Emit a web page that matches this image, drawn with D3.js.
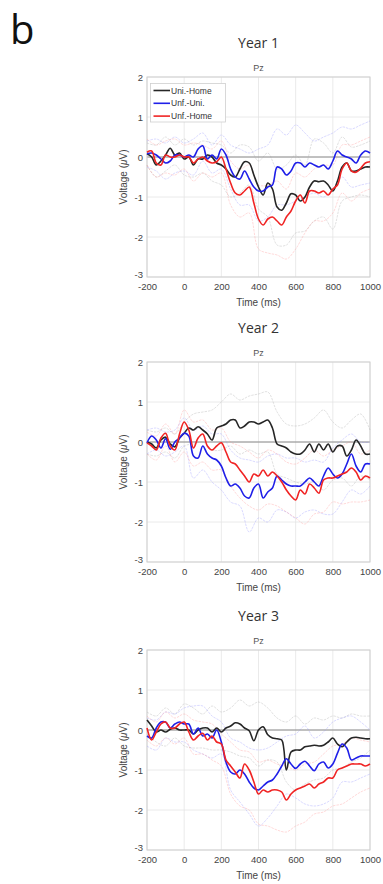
<!DOCTYPE html>
<html>
<head>
<meta charset="utf-8">
<script src="https://cdn.jsdelivr.net/npm/d3@7"></script>
<style>
  body { margin: 0; background: #fff; }
  svg { display: block; }
</style>
</head>
<body>
<div id="chart"></div>
<script>
// time axis (ms)
const timeMain = d3.range(-200, 1001, 25);   // sample grid for the mean traces
const timeBand = d3.range(-200, 1001, 50);   // sample grid for the faint CI traces
const xTicks = [-200, 0, 200, 400, 600, 800, 1000];
const yTicks = [-3, -2, -1, 0, 1, 2];
const panelTitles = ['Year 1', 'Year 2', 'Year 3'];
const seriesNames = ['Uni.-Home', 'Unf.-Uni.', 'Unf.-Home'];

// ---- Year 1 ----
const y1UniHome = [0.08,0.0,-0.2,-0.1,0.05,0.22,0.05,0.1,-0.05,0.0,-0.2,-0.05,-0.05,0.05,0.0,-0.15,-0.2,-0.3,-0.45,-0.5,-0.3,-0.12,-0.15,-0.45,-0.75,-0.95,-0.65,-0.8,-1.25,-1.33,-1.15,-0.92,-0.95,-1.1,-1.0,-0.75,-0.6,-0.62,-0.6,-0.7,-0.85,-0.6,-0.25,-0.15,-0.35,-0.35,-0.3,-0.25,-0.25];
const y1UnfUni = [0.08,0.1,0.05,-0.05,-0.15,-0.1,0.05,0.05,0.0,0.05,0.0,0.2,0.28,-0.05,0.05,-0.05,0.2,0.05,-0.3,-0.5,-0.55,-0.35,-0.55,-0.75,-0.85,-0.85,-0.75,-0.7,-0.25,-0.3,-0.45,-0.35,-0.15,-0.15,-0.25,-0.15,-0.2,-0.25,-0.2,-0.3,-0.1,0.15,0.05,0.0,-0.05,-0.15,0.05,0.15,0.1];
const y1UnfHome = [0.12,0.15,-0.15,-0.2,0.05,0.0,0.0,0.05,0.0,0.0,-0.15,-0.05,0.0,-0.1,-0.15,-0.12,0.0,-0.3,-0.65,-0.9,-0.95,-0.85,-0.75,-1.15,-1.55,-1.7,-1.55,-1.5,-1.6,-1.7,-1.5,-1.35,-1.1,-0.95,-1.15,-0.85,-0.85,-0.9,-0.85,-0.95,-0.8,-0.7,-0.3,-0.15,-0.35,-0.38,-0.28,-0.15,-0.12];
const y1UniHomeHi = [0.35,0.3,0.5,0.3,0.45,0.3,0.4,0.35,0.3,0.1,0.3,0.25,-0.1,0.1,-0.3,-0.2,0.05,-0.2,0.45,0.35,0.1,0.5,0.25,0.3,0.4];
const y1UniHomeLo = [-0.2,-0.5,-0.35,-0.2,-0.45,-0.5,-0.4,-0.6,-0.7,-1.0,-0.9,-0.7,-1.3,-1.5,-2.2,-2.2,-1.9,-1.85,-1.6,-1.5,-1.8,-1.1,-1.0,-0.95,-1.0];
const y1UnfUniHi = [0.4,0.45,0.35,0.5,0.35,0.45,0.6,0.3,0.55,0.3,0.2,0.1,0.2,0.3,0.7,0.55,0.8,0.6,0.4,0.5,0.6,0.75,0.7,0.8,0.9];
const y1UnfUniLo = [-0.25,-0.35,-0.55,-0.4,-0.35,-0.45,-0.1,-0.4,-0.3,-0.8,-1.2,-1.2,-1.6,-1.5,-1.2,-1.2,-1.1,-1.0,-0.9,-1.0,-0.8,-0.5,-0.75,-0.7,-0.65];
const y1UnfHomeHi = [0.45,0.3,0.4,0.45,0.3,0.35,0.3,0.2,0.4,-0.1,-0.3,-0.2,-0.7,-0.7,-0.6,-0.8,-0.4,-0.5,-0.3,-0.2,-0.2,0.3,0.3,0.4,0.5];
const y1UnfHomeLo = [-0.2,-0.5,-0.4,-0.45,-0.3,-0.6,-0.4,-0.5,-0.4,-1.2,-1.5,-1.4,-2.3,-2.4,-2.45,-2.55,-2.3,-1.9,-1.6,-1.6,-1.4,-0.9,-1.1,-0.9,-0.8];

// ---- Year 2 ----
const y2UniHome = [0.0,-0.05,-0.15,0.05,0.12,-0.05,-0.12,0.1,0.22,0.35,0.3,0.38,0.3,0.2,0.05,0.35,0.4,0.45,0.55,0.55,0.35,0.4,0.5,0.5,0.45,0.5,0.55,0.35,-0.05,-0.1,-0.15,-0.25,-0.3,-0.3,-0.2,-0.05,-0.25,-0.05,-0.2,-0.05,-0.25,-0.1,-0.1,-0.35,-0.2,0.05,-0.1,-0.3,-0.3];
const y2UnfUni = [-0.02,0.15,0.05,-0.15,0.08,-0.18,0.0,0.1,0.22,0.15,-0.35,-0.4,-0.1,-0.3,-0.4,-0.45,-0.6,-0.9,-1.1,-1.05,-1.15,-1.35,-1.4,-1.15,-1.05,-1.4,-1.25,-1.15,-0.85,-0.95,-1.05,-1.1,-1.1,-1.1,-1.0,-0.9,-1.0,-1.1,-0.85,-0.65,-0.8,-0.9,-0.8,-0.55,-0.3,-0.6,-0.75,-0.55,-0.55];
const y2UnfHome = [-0.02,-0.1,-0.2,0.1,0.22,-0.1,-0.2,0.2,0.5,0.3,-0.15,0.1,0.2,-0.1,-0.2,-0.1,-0.02,-0.25,-0.5,-0.55,-0.7,-0.85,-1.0,-0.8,-0.85,-0.7,-0.85,-0.75,-0.85,-1.0,-1.2,-1.35,-1.45,-1.2,-1.3,-1.05,-1.15,-1.28,-0.95,-0.9,-0.9,-0.85,-0.8,-0.75,-0.65,-0.75,-0.95,-0.85,-0.9];
const y2UniHomeHi = [0.3,0.25,0.35,0.2,0.5,0.7,0.75,0.8,1.0,1.2,1.05,1.15,1.2,1.25,0.75,0.45,0.4,0.45,0.6,0.8,0.5,0.35,0.55,0.7,0.3];
const y2UniHomeLo = [-0.3,-0.35,-0.25,-0.4,-0.1,-0.05,0.0,-0.2,-0.2,-0.1,-0.3,-0.2,-0.3,-0.25,-0.8,-0.9,-1.0,-1.05,-1.0,-1.2,-0.95,-0.9,-1.1,-0.85,-0.95];
const y2UnfUniHi = [0.3,0.35,0.25,0.3,0.6,0.3,0.4,0.2,0.2,-0.2,-0.4,-0.45,-0.5,-0.35,-0.3,-0.4,-0.4,-0.5,-0.45,-0.5,-0.15,0.05,0.2,0.0,0.0];
const y2UnfUniLo = [-0.3,-0.2,-0.35,-0.25,-0.1,-0.9,-0.7,-1.0,-1.2,-1.5,-1.6,-2.25,-1.9,-2.0,-1.7,-1.75,-1.9,-1.75,-1.7,-1.8,-1.8,-1.5,-1.2,-1.3,-1.1];
const y2UnfHomeHi = [0.25,0.15,0.45,0.2,0.8,0.5,0.55,0.3,0.35,0.0,-0.1,-0.25,-0.4,-0.2,-0.3,-0.5,-0.55,-0.4,-0.2,-0.35,-0.2,-0.1,0.0,-0.3,-0.2];
const y2UnfHomeLo = [-0.3,-0.45,-0.1,-0.5,-0.25,-0.6,-0.5,-0.7,-0.7,-1.1,-1.4,-1.6,-1.7,-1.55,-1.6,-1.75,-1.9,-2.05,-1.8,-1.75,-1.5,-1.55,-1.5,-1.5,-1.45];

// ---- Year 3 ----
const y3UniHome = [0.25,0.1,-0.05,0.0,-0.05,0.02,0.05,0.0,0.0,0.0,-0.1,0.0,0.05,0.05,-0.05,0.05,-0.05,0.05,0.1,0.18,0.15,0.05,-0.02,-0.27,0.0,0.08,-0.12,-0.2,-0.22,-0.25,-1.0,-0.55,-0.5,-0.5,-0.42,-0.4,-0.38,-0.4,-0.38,-0.3,-0.2,-0.35,-0.42,-0.3,-0.2,-0.18,-0.2,-0.22,-0.22];
const y3UnfUni = [-0.15,-0.2,0.05,0.2,0.2,0.05,0.15,0.2,0.15,0.15,-0.1,0.05,-0.15,-0.1,-0.2,0.0,-0.3,-0.8,-1.05,-1.1,-1.0,-1.1,-1.3,-1.45,-1.5,-1.4,-1.3,-1.25,-1.1,-0.9,-0.72,-0.85,-0.96,-0.85,-0.78,-0.9,-1.02,-0.85,-0.8,-0.95,-0.85,-0.58,-0.35,-0.45,-0.75,-0.7,-0.65,-0.65,-0.65];
const y3UnfHome = [0.05,-0.25,-0.05,0.15,0.2,0.05,0.05,0.15,0.2,-0.05,-0.25,-0.15,-0.08,-0.25,-0.15,-0.3,-0.35,-0.75,-0.9,-1.05,-1.2,-0.85,-1.0,-1.3,-1.6,-1.5,-1.55,-1.5,-1.5,-1.55,-1.75,-1.6,-1.5,-1.45,-1.4,-1.35,-1.45,-1.35,-1.3,-1.2,-1.2,-1.0,-0.95,-0.9,-0.85,-0.85,-0.85,-0.9,-0.85];
const y3UniHomeHi = [0.45,0.35,0.55,0.4,0.65,0.55,0.4,0.6,0.45,0.55,0.75,0.6,0.7,0.55,0.3,0.2,0.35,0.15,0.3,0.25,0.35,0.3,0.4,0.35,0.35];
const y3UniHomeLo = [-0.1,-0.3,-0.4,-0.2,-0.4,-0.45,-0.45,-0.5,-0.5,-0.55,-0.65,-0.7,-0.9,-0.75,-0.8,-1.3,-1.5,-1.35,-1.25,-1.2,-1.0,-0.95,-0.8,-0.7,-0.5];
const y3UnfUniHi = [0.3,0.25,0.45,0.4,0.55,0.6,0.6,0.35,0.2,-0.2,-0.3,-0.45,-0.5,-0.45,-0.3,-0.15,-0.1,0.1,-0.2,-0.05,0.2,0.3,0.35,0.2,0.0];
const y3UnfUniLo = [-0.4,-0.5,-0.2,-0.3,-0.3,-0.5,-0.6,-0.7,-0.6,-1.5,-1.8,-2.1,-2.4,-2.2,-1.9,-1.6,-1.7,-1.85,-1.9,-1.85,-1.7,-1.3,-1.3,-1.2,-1.1];
const y3UnfHomeHi = [0.35,0.2,0.45,0.3,0.4,0.25,0.2,0.15,-0.1,-0.3,-0.5,-0.55,-0.8,-0.75,-0.85,-0.9,-1.0,-0.85,-0.8,-0.6,-0.4,-0.35,-0.2,-0.25,-0.3];
const y3UnfHomeLo = [-0.25,-0.4,-0.2,-0.35,-0.2,-0.6,-0.6,-0.75,-0.9,-1.6,-1.9,-2.0,-2.35,-2.4,-2.5,-2.55,-2.4,-2.3,-2.1,-2.05,-1.9,-1.85,-1.7,-1.55,-1.45];

const panels = [
  { title: panelTitles[0], top: 77,  main: [y1UniHome, y1UnfUni, y1UnfHome],
    bands: [[y1UniHomeHi, y1UniHomeLo], [y1UnfUniHi, y1UnfUniLo], [y1UnfHomeHi, y1UnfHomeLo]], legend: true },
  { title: panelTitles[1], top: 362, main: [y2UniHome, y2UnfUni, y2UnfHome],
    bands: [[y2UniHomeHi, y2UniHomeLo], [y2UnfUniHi, y2UnfUniLo], [y2UnfHomeHi, y2UnfHomeLo]], legend: false },
  { title: panelTitles[2], top: 650, main: [y3UniHome, y3UnfUni, y3UnfHome],
    bands: [[y3UniHomeHi, y3UniHomeLo], [y3UnfUniHi, y3UnfUniLo], [y3UnfHomeHi, y3UnfHomeLo]], legend: false }
];

const colors = ['#262626', '#1f1fe8', '#f02424'];
const bandColors = ['#a0a0a0', '#8c8cff', '#ff8c8c'];

const W = 383, H = 884;
const plotLeft = 147, plotW = 223, plotH = 200;
const tickFont = 'Liberation Sans, Arial, sans-serif';

const svg = d3.select('#chart').append('svg')
  .attr('width', W)
  .attr('height', H);

// panel letter
svg.append('text')
  .attr('x', 10)
  .attr('y', 44)
  .style('font-family', 'Open Sans, sans-serif')
  .style('font-size', '40px')
  .style('fill', '#111')
  .text('b');

const x = d3.scaleLinear().domain([-200, 1000]).range([0, plotW]);
const y = d3.scaleLinear().domain([-3, 2]).range([plotH, 0]);

panels.forEach(p => {
  const g = svg.append('g').attr('transform', `translate(${plotLeft},${p.top})`);

  // titles
  g.append('text')
    .attr('x', plotW / 2)
    .attr('y', -29)
    .attr('text-anchor', 'middle')
    .style('font-family', 'Open Sans, sans-serif')
    .style('font-size', '14px')
    .style('fill', '#333')
    .text(p.title);
  g.append('text')
    .attr('x', plotW / 2)
    .attr('y', -6)
    .attr('text-anchor', 'middle')
    .style('font-family', tickFont)
    .style('font-size', '9px')
    .style('fill', '#555')
    .text('Pz');

  // grid
  g.selectAll('.gx').data(xTicks).enter().append('line')
    .attr('x1', d => x(d)).attr('x2', d => x(d))
    .attr('y1', 0).attr('y2', plotH)
    .attr('stroke', '#e4e4e4').attr('stroke-width', 0.8);
  g.selectAll('.gy').data(yTicks).enter().append('line')
    .attr('x1', 0).attr('x2', plotW)
    .attr('y1', d => y(d)).attr('y2', d => y(d))
    .attr('stroke', '#e4e4e4').attr('stroke-width', 0.8);

  // zero line
  g.append('line')
    .attr('x1', 0).attr('x2', plotW)
    .attr('y1', y(0)).attr('y2', y(0))
    .attr('stroke', '#8c8c8c').attr('stroke-width', 1);

  // box
  g.append('rect')
    .attr('width', plotW).attr('height', plotH)
    .attr('fill', 'none')
    .attr('stroke', '#cfcfcf').attr('stroke-width', 1);

  const bandLine = d3.line()
    .x((d, i) => x(timeBand[i]))
    .y(d => y(d))
    .curve(d3.curveCatmullRom.alpha(0.5));
  const mainLine = d3.line()
    .x((d, i) => x(timeMain[i]))
    .y(d => y(d))
    .curve(d3.curveCatmullRom.alpha(0.5));

  // faint confidence traces
  p.bands.forEach((pair, k) => {
    pair.forEach(arr => {
      g.append('path')
        .datum(arr)
        .attr('d', bandLine)
        .attr('fill', 'none')
        .attr('stroke', bandColors[k])
        .attr('stroke-width', 0.8)
        .attr('stroke-opacity', 0.4)
        .attr('stroke-dasharray', '2.5,1');
    });
  });

  // mean traces: black first, then blue, red on top
  p.main.forEach((arr, k) => {
    g.append('path')
      .datum(arr)
      .attr('d', mainLine)
      .attr('fill', 'none')
      .attr('stroke', colors[k])
      .attr('stroke-width', 1.6)
      .attr('stroke-linejoin', 'round');
  });

  // axes
  const xAxis = g.append('g')
    .attr('transform', `translate(0,${plotH})`)
    .call(d3.axisBottom(x).tickValues(xTicks).tickFormat(d => String(d)).tickSize(0).tickPadding(6.5));
  const yAxis = g.append('g')
    .call(d3.axisLeft(y).tickValues(yTicks).tickFormat(d => String(d)).tickSize(0).tickPadding(4));
  [xAxis, yAxis].forEach(a => {
    a.select('.domain').remove();
    a.selectAll('text')
      .style('font-family', tickFont)
      .style('font-size', '9.5px')
      .style('fill', '#444');
  });
  // lowest y label sits a little higher, as in the source figure
  yAxis.selectAll('.tick').filter(d => d === -3).select('text').attr('dy', '0.1em');

  g.append('text')
    .attr('x', plotW / 2)
    .attr('y', plotH + 29)
    .attr('text-anchor', 'middle')
    .style('font-family', tickFont)
    .style('font-size', '10px')
    .style('fill', '#444')
    .text('Time (ms)');

  const yl = g.append('text')
    .attr('transform', `translate(-20,${plotH / 2}) rotate(-90)`)
    .attr('text-anchor', 'middle')
    .style('font-family', tickFont)
    .style('font-size', '10px')
    .style('fill', '#444');
  yl.append('tspan').text('Voltage (');
  yl.append('tspan').style('font-style', 'italic').text('μ');
  yl.append('tspan').text('V)');

  // legend
  if (p.legend) {
    const lg = g.append('g').attr('transform', 'translate(3.5,6.5)');
    lg.append('rect')
      .attr('width', 75).attr('height', 38.5)
      .attr('fill', '#fff')
      .attr('stroke', '#cfcfcf').attr('stroke-width', 0.8);
    seriesNames.forEach((name, k) => {
      const yy = 7 + k * 12.8;
      lg.append('line')
        .attr('x1', 3).attr('x2', 19.5)
        .attr('y1', yy).attr('y2', yy)
        .attr('stroke', colors[k]).attr('stroke-width', 1.6);
      lg.append('text')
        .attr('x', 20.5).attr('y', yy + 3)
        .style('font-family', tickFont)
        .style('font-size', '8.5px')
        .style('fill', '#333')
        .text(name);
    });
  }
});
</script>
</body>
</html>
